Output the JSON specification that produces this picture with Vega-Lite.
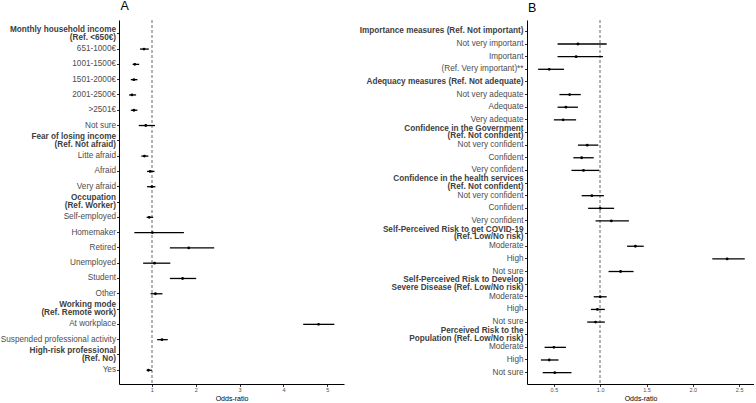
{
  "$schema": "https://vega.github.io/schema/vega-lite/v6.json",
  "background": "white",
  "padding": {"left": 0, "top": 0, "right": 0, "bottom": 0},
  "config": {
    "view": {"stroke": null},
    "font": "Liberation Sans",
    "axis": {"grid": false, "domainColor": "black", "domainWidth": 1, "tickColor": "#333333", "tickSize": 2.5, "labelColor": "#4d4d4d"}
  },
  "spacing": 15,
  "datasets": {
    "A": [
      {"key": "00H|Monthly household income~(Ref. <650€)"},
      {"key": "01R|651-1000€", "or": 0.82, "lo": 0.73, "hi": 0.93},
      {"key": "02R|1001-1500€", "or": 0.61, "lo": 0.56, "hi": 0.71},
      {"key": "03R|1501-2000€", "or": 0.59, "lo": 0.52, "hi": 0.67},
      {"key": "04R|2001-2500€", "or": 0.545, "lo": 0.48, "hi": 0.64},
      {"key": "05R|>2501€", "or": 0.59, "lo": 0.52, "hi": 0.67},
      {"key": "06R|Not sure", "or": 0.86, "lo": 0.70, "hi": 1.07},
      {"key": "07H|Fear of losing income~(Ref. Not afraid)"},
      {"key": "08R|Litte afraid", "or": 0.83, "lo": 0.76, "hi": 0.92},
      {"key": "09R|Afraid", "or": 0.96, "lo": 0.89, "hi": 1.06},
      {"key": "10R|Very afraid", "or": 1.0, "lo": 0.89, "hi": 1.08},
      {"key": "11H|Occupation~(Ref. Worker)"},
      {"key": "12R|Self-employed", "or": 0.94, "lo": 0.88, "hi": 1.03},
      {"key": "13R|Homemaker", "or": 1.01, "lo": 0.60, "hi": 1.73},
      {"key": "14R|Retired", "or": 1.84, "lo": 1.41, "hi": 2.42},
      {"key": "15R|Unemployed", "or": 1.06, "lo": 0.80, "hi": 1.42},
      {"key": "16R|Student", "or": 1.70, "lo": 1.41, "hi": 2.01},
      {"key": "17R|Other", "or": 1.08, "lo": 0.97, "hi": 1.24},
      {"key": "18H|Working mode~(Ref. Remote work)"},
      {"key": "19R|At workplace", "or": 4.80, "lo": 4.45, "hi": 5.16},
      {"key": "20R|Suspended professional activity", "or": 1.23, "lo": 1.12, "hi": 1.36},
      {"key": "21H|High-risk  professional~(Ref. No)"},
      {"key": "22R|Yes", "or": 0.92, "lo": 0.88, "hi": 1.00}
    ],
    "B": [
      {"key": "00H|Importance measures (Ref. Not important)"},
      {"key": "01R|Not very important", "or": 0.76, "lo": 0.54, "hi": 1.07},
      {"key": "02R|Important", "or": 0.74, "lo": 0.54, "hi": 1.03},
      {"key": "03R|(Ref. Very important)**", "or": 0.45, "lo": 0.33, "hi": 0.61},
      {"key": "04H|Adequacy measures (Ref. Not adequate)"},
      {"key": "05R|Not very adequate", "or": 0.67, "lo": 0.56, "hi": 0.79},
      {"key": "06R|Adequate", "or": 0.63, "lo": 0.54, "hi": 0.76},
      {"key": "07R|Very adequate", "or": 0.60, "lo": 0.50, "hi": 0.74},
      {"key": "08H|Confidence in the Government~(Ref. Not confident)"},
      {"key": "09R|Not very confident", "or": 0.86, "lo": 0.76, "hi": 0.98},
      {"key": "10R|Confident", "or": 0.80, "lo": 0.71, "hi": 0.93},
      {"key": "11R|Very confident", "or": 0.82, "lo": 0.69, "hi": 0.99},
      {"key": "12H|Confidence in the health services~(Ref. Not confident)"},
      {"key": "13R|Not very confident", "or": 0.91, "lo": 0.80, "hi": 1.04},
      {"key": "14R|Confident", "or": 1.00, "lo": 0.87, "hi": 1.15},
      {"key": "15R|Very confident", "or": 1.12, "lo": 0.95, "hi": 1.31},
      {"key": "16H|Self-Perceived  Risk to get COVID-19~(Ref. Low/No risk)"},
      {"key": "17R|Moderate", "or": 1.38, "lo": 1.29, "hi": 1.47},
      {"key": "18R|High", "or": 2.37, "lo": 2.21, "hi": 2.56},
      {"key": "19R|Not sure", "or": 1.22, "lo": 1.09, "hi": 1.36},
      {"key": "20H|Self-Perceived  Risk to Develop~Severe Disease (Ref. Low/No risk)"},
      {"key": "21R|Moderate", "or": 1.00, "lo": 0.93, "hi": 1.07},
      {"key": "22R|High", "or": 0.97, "lo": 0.90, "hi": 1.05},
      {"key": "23R|Not sure", "or": 0.95, "lo": 0.86, "hi": 1.05},
      {"key": "24H|Perceived Risk to the~Population (Ref. Low/No risk)"},
      {"key": "25R|Moderate", "or": 0.50, "lo": 0.40, "hi": 0.63},
      {"key": "26R|High", "or": 0.45, "lo": 0.36, "hi": 0.55},
      {"key": "27R|Not sure", "or": 0.51, "lo": 0.38, "hi": 0.69}
    ]
  },
  "hconcat": [
    {
      "width": 225,
      "height": 364,
      "title": {"text": "A", "anchor": "start", "frame": "group", "fontSize": 12.5, "fontWeight": "normal", "color": "black", "offset": 7, "dx": 1.5},
      "data": {"name": "A"},
      "layer": [
        {
          "mark": {"type": "point", "opacity": 0},
          "encoding": {
            "y": {
              "field": "key", "type": "nominal", "sort": "ascending",
              "scale": {"padding": 0.8},
              "axis": {
                "title": null,
                "labelExpr": "split(split(datum.value,'|')[1],'~')",
                "labelFontSize": 8.2,
                "labelLineHeight": 7.7,
                "labelPadding": 1,
                "labelLimit": 0,
                "labelOffset": {"condition": {"test": "indexof(datum.value,'~')>=0", "value": -3.85}, "value": 0},
                "labelFontWeight": {"condition": {"test": "substring(datum.value,2,3)=='H'", "value": "bold"}, "value": "normal"},
                "labelColor": {"condition": {"test": "substring(datum.value,2,3)=='H'", "value": "#404040"}, "value": "#4d4d4d"}
              }
            }
          }
        },
        {
          "mark": {"type": "rule", "color": "#b3b3b3", "strokeDash": [3, 2], "strokeWidth": 0.9},
          "encoding": {"x": {"datum": 1, "type": "quantitative"}}
        },
        {
          "mark": {"type": "rule", "color": "black", "strokeWidth": 1.3},
          "encoding": {
            "y": {"field": "key", "type": "nominal", "sort": "ascending"},
            "x": {
              "field": "lo", "type": "quantitative",
              "scale": {"domain": [0.25, 5.38], "nice": false, "zero": false},
              "axis": {"title": "Odds-ratio", "titleFontSize": 7, "titleFontWeight": "normal", "titleColor": "black", "titlePadding": 1, "values": [1, 2, 3, 4, 5], "format": "d", "labelFontSize": 5.5, "labelPadding": 1}
            },
            "x2": {"field": "hi"}
          }
        },
        {
          "mark": {"type": "point", "filled": true, "color": "black", "size": 8, "opacity": 1},
          "encoding": {
            "y": {"field": "key", "type": "nominal", "sort": "ascending"},
            "x": {"field": "or", "type": "quantitative"}
          }
        }
      ]
    },
    {
      "width": 227,
      "height": 364,
      "title": {"text": "B", "anchor": "start", "frame": "group", "fontSize": 12.5, "fontWeight": "normal", "color": "black", "offset": 5, "dx": 1},
      "data": {"name": "B"},
      "layer": [
        {
          "mark": {"type": "point", "opacity": 0},
          "encoding": {
            "y": {
              "field": "key", "type": "nominal", "sort": "ascending",
              "scale": {"padding": 0.8},
              "axis": {
                "title": null,
                "labelExpr": "split(split(datum.value,'|')[1],'~')",
                "labelFontSize": 8.2,
                "labelLineHeight": 7.7,
                "labelPadding": 1.5,
                "labelLimit": 0,
                "labelOffset": {"condition": {"test": "indexof(datum.value,'~')>=0", "value": -3.85}, "value": 0},
                "labelFontWeight": {"condition": {"test": "substring(datum.value,2,3)=='H'", "value": "bold"}, "value": "normal"},
                "labelColor": {"condition": {"test": "substring(datum.value,2,3)=='H'", "value": "#404040"}, "value": "#4d4d4d"}
              }
            }
          }
        },
        {
          "mark": {"type": "rule", "color": "#b3b3b3", "strokeDash": [3, 2], "strokeWidth": 0.9},
          "encoding": {"x": {"datum": 1, "type": "quantitative"}}
        },
        {
          "mark": {"type": "rule", "color": "black", "strokeWidth": 1.3},
          "encoding": {
            "y": {"field": "key", "type": "nominal", "sort": "ascending"},
            "x": {
              "field": "lo", "type": "quantitative",
              "scale": {"domain": [0.21, 2.66], "nice": false, "zero": false},
              "axis": {"title": "Odds-ratio", "titleFontSize": 7, "titleFontWeight": "normal", "titleColor": "black", "titlePadding": 1, "values": [0.5, 1, 1.5, 2, 2.5], "format": ".1f", "labelFontSize": 5.5, "labelPadding": 1}
            },
            "x2": {"field": "hi"}
          }
        },
        {
          "mark": {"type": "point", "filled": true, "color": "black", "size": 8, "opacity": 1},
          "encoding": {
            "y": {"field": "key", "type": "nominal", "sort": "ascending"},
            "x": {"field": "or", "type": "quantitative"}
          }
        }
      ]
    }
  ]
}
